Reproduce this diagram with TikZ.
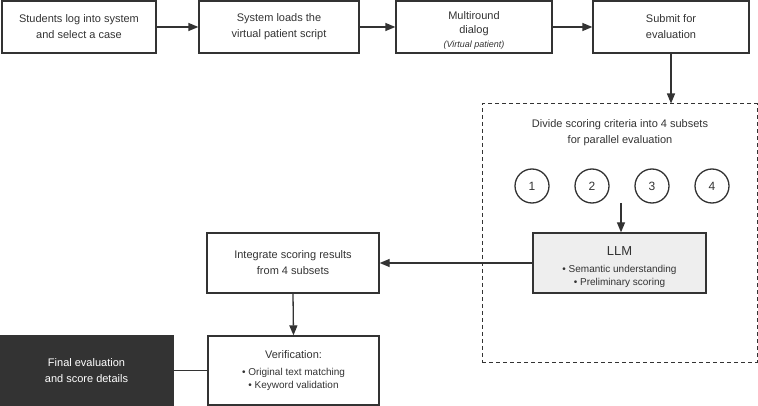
\documentclass[tikz,border=0pt]{standalone}
\usepackage{fontspec}
\setmainfont{Liberation Sans}
\usetikzlibrary{arrows.meta}
\definecolor{ink}{HTML}{333333}
\definecolor{llmfill}{HTML}{EEEEEE}
\tikzset{
  box/.style={draw=ink, line width=1.3pt, rectangle, align=center, text=ink, inner sep=0pt,
              font=\fontsize{11}{16}\selectfont},
  grp/.style={draw=ink, line width=1pt, dash pattern=on 4pt off 3pt, rectangle, inner sep=0pt},
  num/.style={draw=ink, line width=1.3pt, circle, minimum size=34pt, inner sep=0pt, text=ink,
              font=\fontsize{12}{14}\selectfont},
  flow/.style={draw=ink, line width=1.3pt, -{Triangle[length=10pt,width=8pt]}},
  plain/.style={draw=ink, line width=1.3pt},
}
\begin{document}
\begin{tikzpicture}[x=1pt,y=-1pt]
\useasboundingbox (0,0) rectangle (758,406);
\node[box, minimum width=154pt, minimum height=52pt] (b1) at (79,27) {Students log into system\\and select a case};
\node[box, minimum width=160pt, minimum height=52pt] (b2) at (279,27) {System loads the\\virtual patient script};
\node[box, minimum width=156pt, minimum height=52pt, font=\fontsize{11}{14}\selectfont] (b3) at (474,27) {\rule{0pt}{14pt}Multiround\\dialog\\{\fontsize{9}{14}\selectfont\itshape (Virtual patient)}};
\node[box, minimum width=156pt, minimum height=52pt] (b4) at (671,27) {Submit for\\evaluation};
\node[grp, minimum width=275pt, minimum height=258pt] (grp) at (619.5,233) {};
\node[align=center, text=ink, font=\fontsize{11}{16}\selectfont] (div) at (620,133) {Divide scoring criteria into 4 subsets\\for parallel evaluation};
\node[num] (c1) at (532,186) {1};
\node[num] (c2) at (592,186) {2};
\node[num] (c3) at (652,186) {3};
\node[num] (c4) at (712,186) {4};
\coordinate (llmin) at (621,203);
\node[box, fill=llmfill, minimum width=173pt, minimum height=60pt, font=\fontsize{10}{13}\selectfont] (llm) at (619.5,263)
  {\rule{0pt}{18pt}{\fontsize{13}{14}\selectfont LLM}\\[4pt]• Semantic understanding\\• Preliminary scoring};
\node[box, minimum width=172pt, minimum height=60pt] (int) at (293,263) {Integrate scoring results\\from 4 subsets};
\node[box, minimum width=171pt, minimum height=69pt, font=\fontsize{10}{13}\selectfont] (ver) at (293.5,370.5)
  {{\fontsize{11}{14}\selectfont Verification:}\\[4pt]• Original text matching\\• Keyword validation};
\node[box, fill=ink, text=white, minimum width=173pt, minimum height=69pt] (fin) at (86.5,370.5) {Final evaluation\\and score details};
\draw[flow] (b1) -- (b2);
\draw[flow] (b2) -- (b3);
\draw[flow] (b3) -- (b4);
\draw[flow] (b4.south) -- (b4.south |- grp.north);
\draw[flow] (llmin) -- (llmin |- llm.north);
\draw[flow] (llm.west) -- (int.east);
\draw[flow] (int.south) -- (ver.north);
\draw[plain] (fin.east) -- (ver.west);
\end{tikzpicture}
\end{document}
